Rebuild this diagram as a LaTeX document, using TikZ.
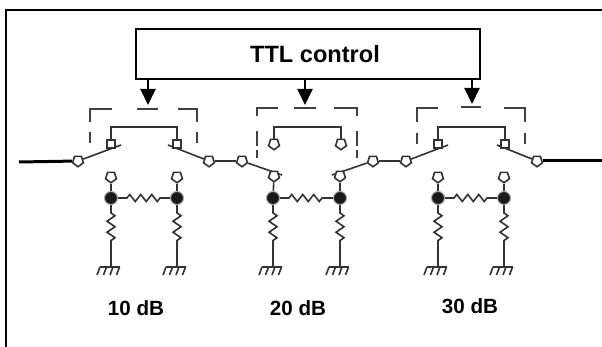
\documentclass[tikz,border=0pt]{standalone}
\usepackage{fontspec}
\setmainfont{Liberation Sans}
\usetikzlibrary{arrows.meta, backgrounds, shapes.geometric, decorations.pathmorphing}

\tikzset{
  wire/.style = {line width = 1.6pt, draw = black!80},
  feed/.style = {line width = 3pt},
  frameline/.style = {line width = 2pt},
  ctrlbox/.style = {draw, line width = 2pt, minimum width = 344pt, minimum height = 50pt,
    font = \fontsize{23.6}{28}\selectfont\bfseries},
  ctrlarrow/.style = {line width = 2pt, -{Triangle[width = 15pt, length = 16pt]}},
  bracket/.style = {line width = 1.5pt, draw = black!75},
  padsq/.style = {draw, wire, fill = white, inner sep = 0pt, minimum size = 8.5pt},
  padtip/.style = {draw, wire, fill = white, regular polygon, regular polygon sides = 5,
    shape border rotate = 180, inner sep = 0pt, minimum size = 11.5pt},
  junction/.style = {circle, fill = black!90, draw = black!35, line width = 1pt,
    inner sep = 0pt, minimum size = 13pt},
  res/.style = {wire, decoration = {zigzag, segment length = 11pt, amplitude = 3.5pt,
    pre length = 16pt, post length = 17pt}, decorate},
  resdown/.style = {wire, decoration = {zigzag, segment length = 11pt, amplitude = 4pt,
    pre length = 15pt, post length = 22pt}, decorate},
  db/.style = {font = \fontsize{20.6}{24}\selectfont\bfseries},
  gnd/.pic = {
    \draw[wire] (-11,0) -- (9,0);
    \draw[wire] (-11,0) -- (-14,8) (-4.5,0) -- (-7.5,8) (2,0) -- (-1,8) (8.5,0) -- (5.5,8);
  }
}

\begin{document}
\begin{tikzpicture}[x = 1pt, y = -1pt]
  \useasboundingbox (0,0) rectangle (602,347);
  \draw[frameline] (5.5,347) -- (5.5,10.5) -- (602,10.5);

  \node[ctrlbox] (ttl) at (308,53.75) {\hspace*{14pt}TTL control};
  \coordinate (tip1) at (148,105);
  \coordinate (tip2) at (305,105);
  \coordinate (tip3) at (472,104);
  \draw[ctrlarrow] (ttl.south -| tip1) -- (tip1);
  \draw[ctrlarrow] (ttl.south -| tip2) -- (tip2);
  \draw[ctrlarrow] (ttl.south -| tip3) -- (tip3);

  % dashed brackets
  \draw[bracket] (90,122) -- (90,109) -- (112,109) (137,109) -- (158,109)
    (178,109) -- (197,109) -- (197,122) (90,132) -- (90,143) (197,132) -- (197,143);
  \draw[bracket] (257,116) -- (257,108) -- (278,108) (294,108) -- (316,108)
    (334,108) -- (357,108) -- (357,116) (257,131) -- (257,146) (257,150) -- (257,158)
    (357,131) -- (357,146) (357,150) -- (357,158);
  \draw[bracket] (417,122) -- (417,108) -- (438,108) (461,107) -- (481,107)
    (504,108) -- (525,108) -- (525,122) (417,133) -- (417,144) (525,133) -- (525,144);

  % poles
  \node[padtip] (in)  at (78,161) {};
  \node[padtip] (p1)  at (209,161) {};
  \node[padtip] (p2)  at (242,161) {};
  \node[padtip] (p3)  at (373,161) {};
  \node[padtip] (p4)  at (406,161) {};
  \node[padtip] (out) at (537,161) {};
  \coordinate (inend) at (19,162);
  \coordinate (outend) at (602,161);

  % contacts above the line
  \node[padsq]  (ta1) at (111,144) {};
  \node[padsq]  (tb1) at (177,144) {};
  \node[padtip] (ta2) at (274,144) {};
  \node[padtip] (tb2) at (341,144) {};
  \node[padsq]  (ta3) at (438,144) {};
  \node[padsq]  (tb3) at (505,144) {};
  \coordinate (br1) at (144,127);
  \coordinate (br2) at (307,127);
  \coordinate (br3) at (471,127);

  % contacts below the line
  \node[padtip] (ba1) at (111,177) {};
  \node[padtip] (bb1) at (177,177) {};
  \node[padtip] (ba2) at (274,176) {};
  \node[padtip] (bb2) at (340,176) {};
  \node[padtip] (ba3) at (438,177) {};
  \node[padtip] (bb3) at (504,177) {};

  % blade ends
  \coordinate (ea1) at (121,145);
  \coordinate (eb1) at (168,145);
  \coordinate (ea2) at (282,175);
  \coordinate (eb2) at (332,175);
  \coordinate (ea3) at (448,145);
  \coordinate (eb3) at (497,145);

  % junctions and grounds
  \node[junction] (ja1) at (111,198) {};
  \node[junction] (jb1) at (177,198) {};
  \node[junction] (ja2) at (273,198) {};
  \node[junction] (jb2) at (340,198) {};
  \node[junction] (ja3) at (438,198) {};
  \node[junction] (jb3) at (504,198) {};
  \coordinate (ga1) at (111,267);
  \coordinate (gb1) at (177,267);
  \coordinate (ga2) at (273,267);
  \coordinate (gb2) at (340,267);
  \coordinate (ga3) at (438,267);
  \coordinate (gb3) at (504,267);

  \begin{scope}[on background layer]
  \draw[feed] (inend) -- (in);
  \draw[feed] (out) -- (outend);
  \draw[wire] (p1) -- (p2);
  \draw[wire] (p3) -- (p4);
  \draw[wire] (in) -- (ea1);
  \draw[wire] (p1) -- (eb1);
  \draw[wire] (p2) -- (ea2);
  \draw[wire] (p3) -- (eb2);
  \draw[wire] (p4) -- (ea3);
  \draw[wire] (out) -- (eb3);
  \draw[wire] (ta1) |- (br1) -| (tb1);
  \draw[wire] (ta2) |- (br2) -| (tb2);
  \draw[wire] (ta3) |- (br3) -| (tb3);
  \draw[wire] (ba1) -- (ja1);
  \draw[wire] (bb1) -- (jb1);
  \draw[wire] (ba2) -- (ja2);
  \draw[wire] (bb2) -- (jb2);
  \draw[wire] (ba3) -- (ja3);
  \draw[wire] (bb3) -- (jb3);
  \draw[res] (ja1.center) -- (jb1.center);
  \draw[res] (ja2.center) -- (jb2.center);
  \draw[res] (ja3.center) -- (jb3.center);
  \draw[resdown] (ja1.center) -- (ga1);
  \draw[resdown] (jb1.center) -- (gb1);
  \draw[resdown] (ja2.center) -- (ga2);
  \draw[resdown] (jb2.center) -- (gb2);
  \draw[resdown] (ja3.center) -- (ga3);
  \draw[resdown] (jb3.center) -- (gb3);
  \end{scope}

  \pic at (ga1) {gnd};
  \pic at (gb1) {gnd};
  \pic at (ga2) {gnd};
  \pic at (gb2) {gnd};
  \pic at (ga3) {gnd};
  \pic at (gb3) {gnd};

  \node[db] (l1) at (136,308) {10 dB};
  \node[db] (l2) at (298,308) {20 dB};
  \node[db] (l3) at (470,306) {30 dB};
\end{tikzpicture}
\end{document}
